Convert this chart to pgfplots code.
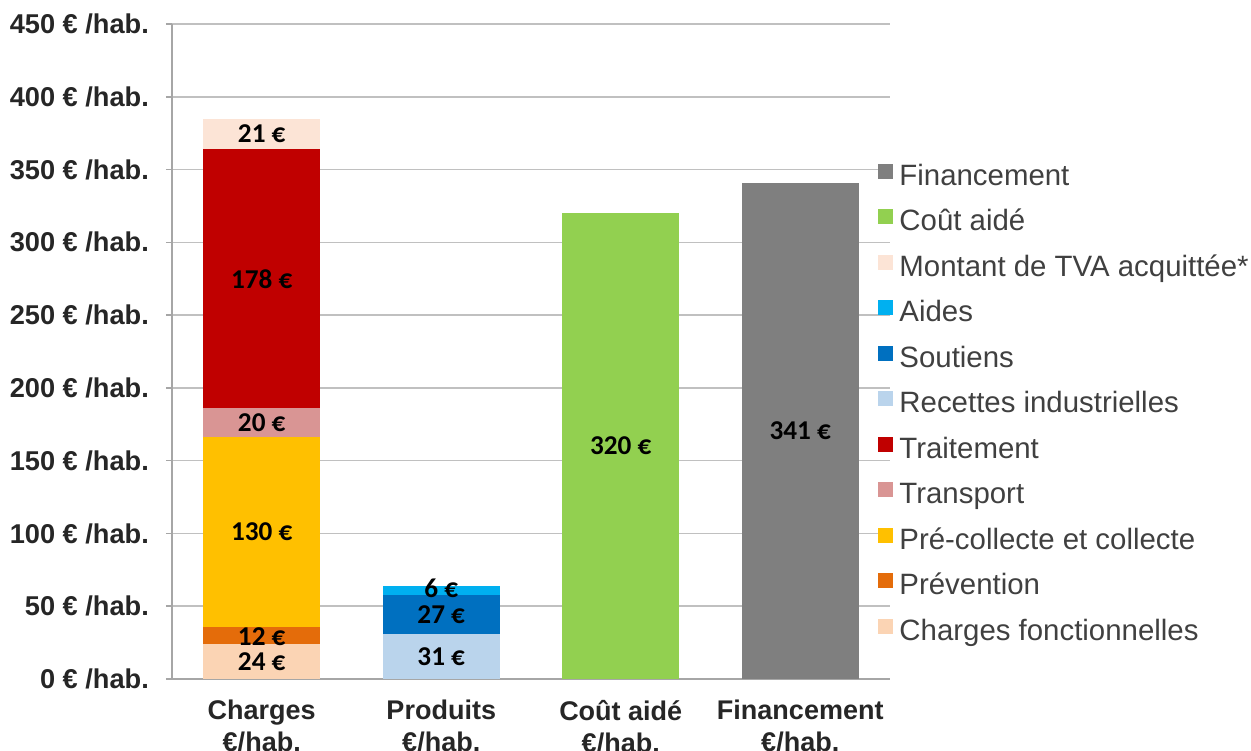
\documentclass[border=0pt]{standalone}
\usepackage{fontspec}
\setmainfont{Liberation Sans}
\newfontfamily\lblfont{Carlito}
\usepackage{pgfplots}
\pgfplotsset{compat=1.18}
\definecolor{cfonct}{HTML}{FBD4B4}
\definecolor{prev}{HTML}{E46C0A}
\definecolor{precol}{HTML}{FFC000}
\definecolor{transp}{HTML}{D99594}
\definecolor{trait}{HTML}{C00000}
\definecolor{recet}{HTML}{BAD4EC}
\definecolor{sout}{HTML}{0070C0}
\definecolor{aides}{HTML}{00B0F0}
\definecolor{tva}{HTML}{FCE4D6}
\definecolor{cout}{HTML}{92D050}
\definecolor{fin}{HTML}{7F7F7F}
\definecolor{gridgray}{HTML}{C0C0C0}
\definecolor{axisgray}{HTML}{A6A6A6}
\definecolor{tickgray}{HTML}{262626}
\definecolor{legendgray}{HTML}{404040}
\begin{document}
\begin{tikzpicture}
\useasboundingbox (-86pt,-35.5pt) rectangle (539.5pt,339.5pt);
\begin{axis}[
  at={(0,0)}, anchor=south west,
  scale only axis, width=359pt, height=327.5pt,
  ybar stacked, bar width=58.5pt,
  xmin=-0.5, xmax=3.5, ymin=0, ymax=450,
  xtick={0,1,2,3},
  xticklabels={Charges\\€/hab., Produits\\€/hab., Coût aidé\\€/hab., Financement\\€/hab.},
  x tick label style={align=center, font=\fontsize{13.5}{16}\selectfont\bfseries, text=tickgray, yshift=-4pt},
  ytick={0,50,...,450},
  yticklabels={0 € /hab., 50 € /hab., 100 € /hab., 150 € /hab., 200 € /hab., 250 € /hab., 300 € /hab., 350 € /hab., 400 € /hab., 450 € /hab.},
  y tick label style={font=\fontsize{13.6}{15}\selectfont\bfseries, text=tickgray, xshift=-5pt},
  ymajorgrids, grid style={gridgray, line width=0.75pt},
  axis x line*=bottom, axis y line*=left,
  axis line style={axisgray, line width=0.75pt, -},
  ytick style={axisgray, line width=0.75pt},
  xtick style={draw=none},
  tick align=outside, major tick length=3pt,
  reverse legend, legend cell align=left,
  legend image code/.code={\fill[#1] (0pt,-0.5pt) rectangle (7.5pt,7pt);},
  legend style={at={(0.975,0.793)}, anchor=north west, draw=none, fill=none,
    font=\fontsize{14.7}{16}\selectfont, text=legendgray, row sep=9.5pt,
    nodes={text height=10pt, text depth=2.5pt, inner ysep=0pt, inner xsep=3pt}},
]
\addplot[fill=cfonct, draw=none] coordinates {(0,24) (1,0) (2,0) (3,0)};
\addlegendentry{Charges fonctionnelles}
\addplot[fill=prev, draw=none] coordinates {(0,12) (1,0) (2,0) (3,0)};
\addlegendentry{Prévention}
\addplot[fill=precol, draw=none] coordinates {(0,130) (1,0) (2,0) (3,0)};
\addlegendentry{Pré-collecte et collecte}
\addplot[fill=transp, draw=none] coordinates {(0,20) (1,0) (2,0) (3,0)};
\addlegendentry{Transport}
\addplot[fill=trait, draw=none] coordinates {(0,178) (1,0) (2,0) (3,0)};
\addlegendentry{Traitement}
\addplot[fill=recet, draw=none] coordinates {(0,0) (1,31) (2,0) (3,0)};
\addlegendentry{Recettes industrielles}
\addplot[fill=sout, draw=none] coordinates {(0,0) (1,27) (2,0) (3,0)};
\addlegendentry{Soutiens}
\addplot[fill=aides, draw=none] coordinates {(0,0) (1,6) (2,0) (3,0)};
\addlegendentry{Aides}
\addplot[fill=tva, draw=none] coordinates {(0,21) (1,0) (2,0) (3,0)};
\addlegendentry{Montant de TVA acquittée*}
\addplot[fill=cout, draw=none] coordinates {(0,0) (1,0) (2,320) (3,0)};
\addlegendentry{Coût aidé}
\addplot[fill=fin, draw=none] coordinates {(0,0) (1,0) (2,0) (3,341)};
\addlegendentry{Financement}
\end{axis}
\begin{axis}[
  at={(0,0)}, anchor=south west,
  scale only axis, width=359pt, height=327.5pt,
  xmin=-0.5, xmax=3.5, ymin=0, ymax=450,
  hide axis,
  point meta=explicit symbolic,
  nodes near coords={\pgfplotspointmeta},
  every node near coord/.append style={anchor=center, font=\lblfont\bfseries\fontsize{13.6}{15}\selectfont, text=black},
]
\addplot[draw=none, mark=none] coordinates {
  (0,12) [24 €] (0,29) [12 €] (0,101) [130 €] (0,176) [20 €] (0,275) [178 €] (0,374.5) [21 €]
  (1,15.5) [31 €] (1,44.5) [27 €] (1,62.5) [6 €]
  (2,160) [320 €] (3,170.5) [341 €]};
\end{axis}
\end{tikzpicture}
\end{document}
